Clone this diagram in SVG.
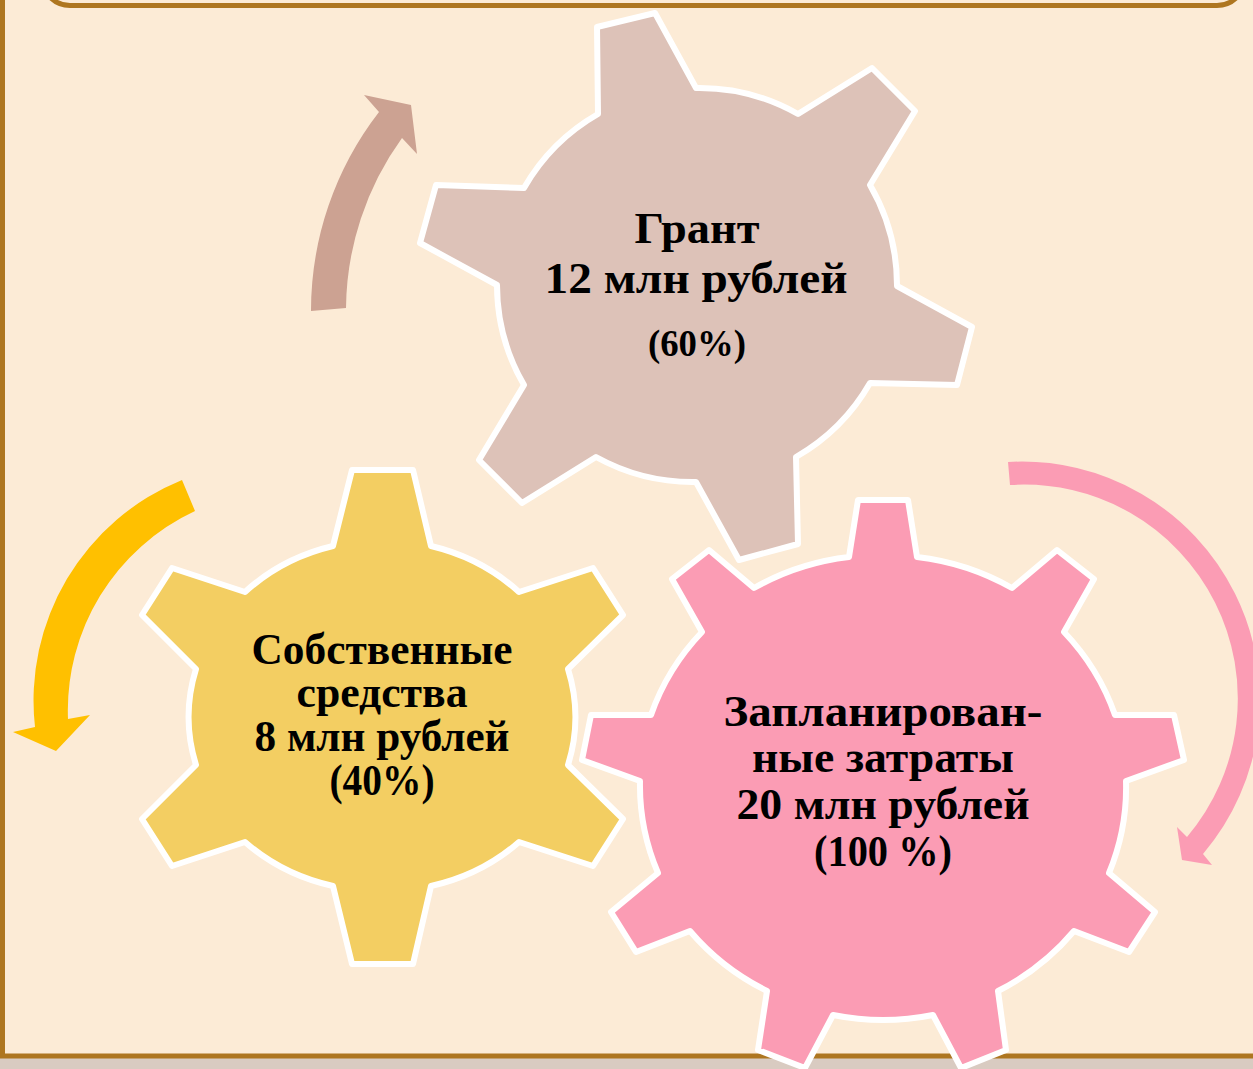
<svg xmlns="http://www.w3.org/2000/svg" width="1253" height="1069" viewBox="0 0 1253 1069">
<style>
.gear{stroke:#fff;stroke-width:6;stroke-linejoin:round}
.frame{fill:none;stroke:#ae7620;stroke-width:5}
text{font-family:"Liberation Serif","Times New Roman",serif;font-weight:700;fill:#000;text-anchor:middle;font-size:44px}
</style>
<rect width="1253" height="1069" fill="#d9cbc1"/>
<rect x="0" y="0" width="1253" height="1056" fill="#fcebd6"/>
<path class="frame" d="M2.500 -5V1056H1260"/>
<rect class="frame" x="42" y="-60" width="1203" height="65.500" rx="28"/>
<g id="connectors">
<path fill="#cca292" d="M311 311A325 325 0 0 1 379 112L364 95L411 105L417 154L402 138A295 295 0 0 0 346 308Z"/>
<path fill="#ffc000" d="M182 480A238 238 0 0 0 35 727L13 732L56 751L90 715L68 719A220 220 0 0 1 195 511Z"/>
<path fill="#fb9cb4" d="M1008 462A238 238 0 0 1 1203 854L1212 865L1182 860L1177 827L1187 837A214 214 0 0 0 1010 485Z"/>
</g>
<g id="gear-grant">
<path class="gear" fill="#ddc2b8" d="M597 27L655 13L696 88A200 200 0 0 1 798 114L872 68L915 111L870 185A200 200 0 0 1 897 286L972 327L957 385L870 383A200 200 0 0 1 796 457L798 544L739 560L696 482A200 200 0 0 1 596 457L522 503L479 460L524 385A200 200 0 0 1 497 285L420 243L436 185L524 188A200 200 0 0 1 598 114Z"/>
<text x="697" y="243" textLength="125" lengthAdjust="spacingAndGlyphs">Грант</text>
<text x="696" y="293" textLength="303" lengthAdjust="spacingAndGlyphs">12 млн рублей</text>
<text x="697" y="356" style="font-size:38px" textLength="98" lengthAdjust="spacingAndGlyphs">(60%)</text>
</g>
<g id="gear-own">
<path class="gear" fill="#f3ce62" d="M352 470H413L431 546A193 176 0 0 1 519 592L593 568L623 615L568 669A193 176 0 0 1 568 765L623 819L593 866L519 842A193 176 0 0 1 431 886L413 964H352L333 886A193 176 0 0 1 245 842L172 866L142 819L196 765A193 176 0 0 1 196 669L142 615L172 568L245 592A193 176 0 0 1 333 546Z"/>
<text x="382" y="664" textLength="261" lengthAdjust="spacingAndGlyphs">Собственные</text>
<text x="382" y="707" textLength="171" lengthAdjust="spacingAndGlyphs">средства</text>
<text x="382" y="751" textLength="255" lengthAdjust="spacingAndGlyphs">8 млн рублей</text>
<text x="382" y="795" textLength="105" lengthAdjust="spacingAndGlyphs">(40%)</text>
</g>
<g id="gear-planned">
<path class="gear" fill="#fb9cb4" d="M858 500H908L917 557A243 232 0 0 1 1012 588L1057 550L1094 579L1064 632A243 232 0 0 1 1115 715H1174L1184 760L1126 781A243 232 0 0 1 1109 873L1155 912L1129 952L1074 931A243 232 0 0 1 998 991L1006 1050L961 1068L933 1015A243 232 0 0 1 833 1015L805 1068L758 1050L767 991A243 232 0 0 1 690 931L636 952L611 912L658 873A243 232 0 0 1 640 781L582 760L591 715H651A243 232 0 0 1 702 632L672 579L709 550L754 588A243 232 0 0 1 849 557Z"/>
<text x="883" y="726" textLength="319" lengthAdjust="spacingAndGlyphs">Запланирован-</text>
<text x="883" y="772" textLength="262" lengthAdjust="spacingAndGlyphs">ные затраты</text>
<text x="883" y="819" textLength="293" lengthAdjust="spacingAndGlyphs">20 млн рублей</text>
<text x="883" y="866" textLength="138" lengthAdjust="spacingAndGlyphs">(100 %)</text>
</g>
</svg>
